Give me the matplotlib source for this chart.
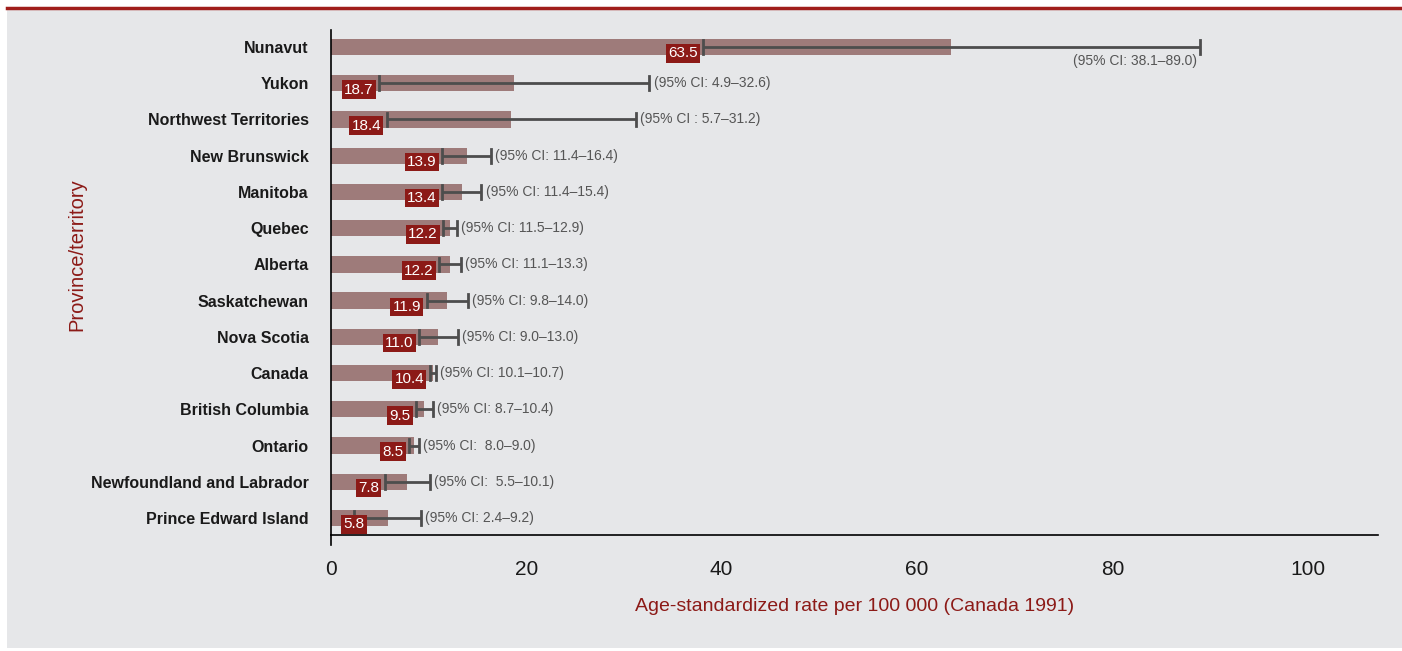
import matplotlib.pyplot as plt

plt.rcParams['font.family'] = ['Liberation Sans', 'DejaVu Sans']

regions = ['Nunavut', 'Yukon', 'Northwest Territories', 'New Brunswick', 'Manitoba',
           'Quebec', 'Alberta', 'Saskatchewan', 'Nova Scotia', 'Canada',
           'British Columbia', 'Ontario', 'Newfoundland and Labrador', 'Prince Edward Island']
rates = [63.5, 18.7, 18.4, 13.9, 13.4, 12.2, 12.2, 11.9, 11.0, 10.4, 9.5, 8.5, 7.8, 5.8]
ci_low = [38.1, 4.9, 5.7, 11.4, 11.4, 11.5, 11.1, 9.8, 9.0, 10.1, 8.7, 8.0, 5.5, 2.4]
ci_high = [89.0, 32.6, 31.2, 16.4, 15.4, 12.9, 13.3, 14.0, 13.0, 10.7, 10.4, 9.0, 10.1, 9.2]
ci_text = ['(95% CI: 38.1\u201389.0)', '(95% CI: 4.9\u201332.6)', '(95% CI : 5.7\u201331.2)',
           '(95% CI: 11.4\u201316.4)', '(95% CI: 11.4\u201315.4)', '(95% CI: 11.5\u201312.9)',
           '(95% CI: 11.1\u201313.3)', '(95% CI: 9.8\u201314.0)', '(95% CI: 9.0\u201313.0)',
           '(95% CI: 10.1\u201310.7)', '(95% CI: 8.7\u201310.4)', '(95% CI:  8.0\u20139.0)',
           '(95% CI:  5.5\u201310.1)', '(95% CI: 2.4\u20139.2)']
x_ticks = [0, 20, 40, 60, 80, 100]

BG = '#e6e7e9'
DARK_RED = '#8c1a17'
BAR = '#9e7b7a'
ERR = '#4d4d4d'

fig = plt.figure(figsize=(14.02, 6.51), dpi=100, facecolor='white')
# grey panel with red rule along the top
fig.add_artist(plt.Rectangle((7 / 1402, 3 / 651), 1 - 7 / 1402, 1 - 13 / 651,
                             transform=fig.transFigure, facecolor=BG, edgecolor='none', zorder=-5))
fig.add_artist(plt.Line2D([7 / 1402, 1], [1 - 8 / 651, 1 - 8 / 651], transform=fig.transFigure,
                          color='#a01e1b', linewidth=2.5, zorder=-4))

ax = fig.add_axes([331 / 1402, 1 - 535 / 651, (1378 - 331) / 1402, (535 - 30) / 651])
ax.set_facecolor('none')

y = list(range(len(regions)))
ax.barh(y, rates, height=0.45, color=BAR, zorder=2)
for yi, lo, hi in zip(y, ci_low, ci_high):
    ax.plot([lo, hi], [yi, yi], color=ERR, linewidth=2, zorder=3, solid_capstyle='butt')
    ax.plot([lo, lo], [yi - 0.19, yi + 0.19], color=ERR, linewidth=2, zorder=3)
    ax.plot([hi, hi], [yi - 0.19, yi + 0.19], color=ERR, linewidth=2, zorder=3)

box = dict(boxstyle='square,pad=0.15', facecolor=DARK_RED, edgecolor='none')
for i, (r, lo, hi, t) in enumerate(zip(rates, ci_low, ci_high, ci_text)):
    # value tag sits just left of the lower whisker, unless that would hit the axis
    if lo < 4:
        ax.annotate(f'{r:.1f}', (0, i), xytext=(9, -4.5), textcoords='offset points',
                    ha='left', va='center', color='white', fontsize=11, zorder=4, bbox=box)
    else:
        ax.annotate(f'{r:.1f}', (lo, i), xytext=(-4, -4.5), textcoords='offset points',
                    ha='right', va='center', color='white', fontsize=11, zorder=4, bbox=box)
    if i == 0:
        ax.annotate(t, (hi, i), xytext=(-2, -10), textcoords='offset points',
                    ha='right', va='center', color='#555555', fontsize=10)
    else:
        ax.annotate(t, (hi, i), xytext=(3, 0), textcoords='offset points',
                    ha='left', va='center', color='#555555', fontsize=10)

ax.set_ylim(len(regions) - 1 + 0.47, -0.47)
ax.set_xlim(0, 107.2)
ax.set_yticks(y)
ax.set_yticklabels(regions, fontsize=11.5, fontweight='bold', color='#1a1a1a')
ax.set_xticks(x_ticks)
ax.set_xticklabels([str(v) for v in x_ticks], fontsize=15, color='#1a1a1a')
ax.tick_params(axis='y', length=0, pad=16)
ax.tick_params(axis='x', length=0, pad=18)
for s in ['top', 'right']:
    ax.spines[s].set_visible(False)
ax.spines['left'].set_linewidth(1.2)
ax.spines['bottom'].set_linewidth(1.2)
ax.plot([0, 0], [len(regions) - 1 + 0.47, len(regions) - 1 + 0.75], color='black',
        linewidth=1.2, clip_on=False)

ax.set_xlabel('Age-standardized rate per 100 000 (Canada 1991)', fontsize=14,
              color=DARK_RED, labelpad=14)
fig.text(77 / 1402, 1 - 255 / 651, 'Province/territory', rotation=90, fontsize=14.5,
         color=DARK_RED, ha='center', va='center')

fig.savefig('out.png', dpi=100, facecolor='white')
